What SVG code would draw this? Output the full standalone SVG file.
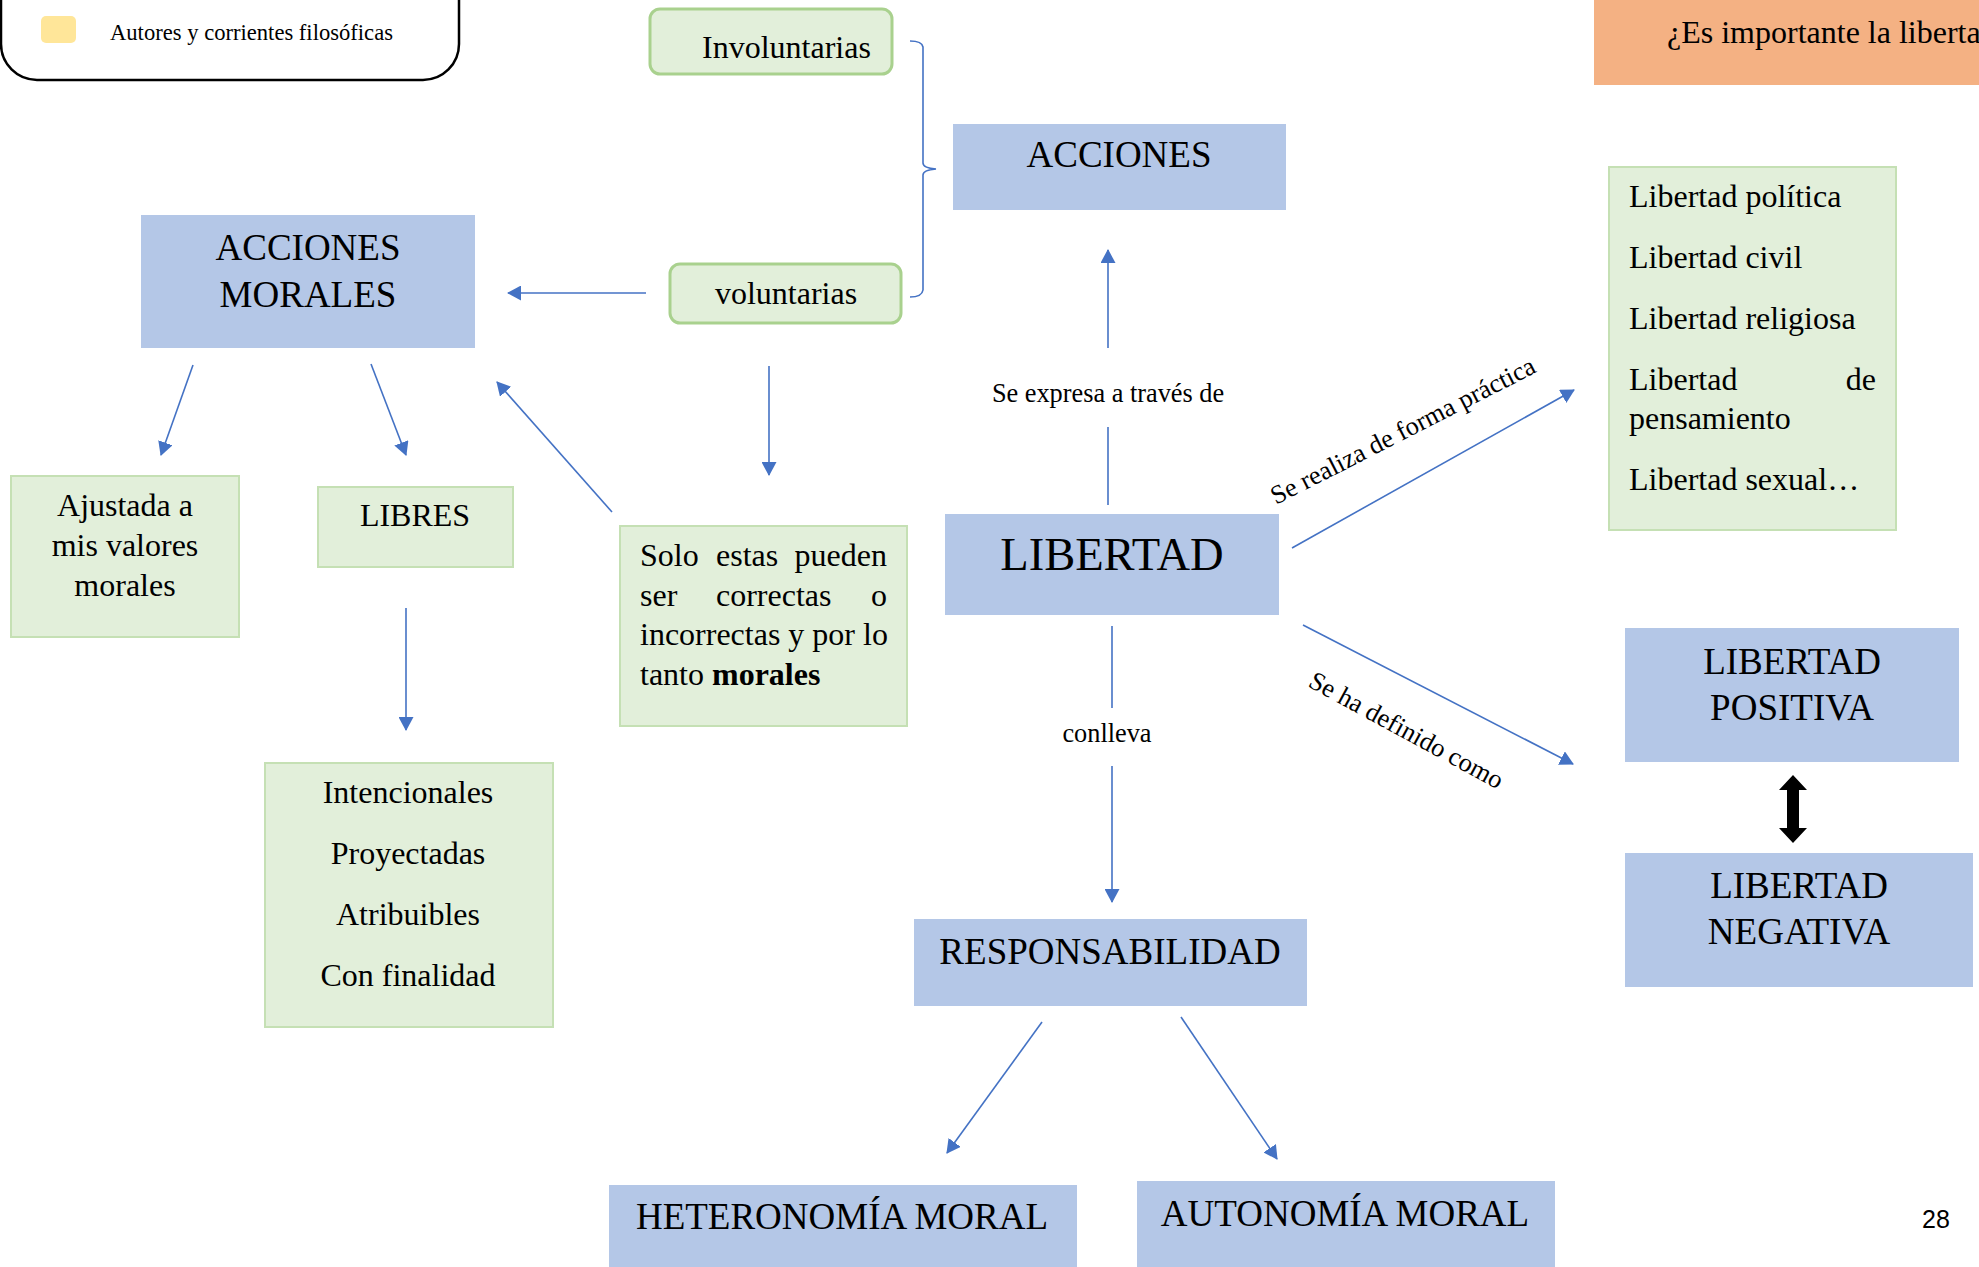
<svg xmlns="http://www.w3.org/2000/svg" width="1979" height="1267" viewBox="0 0 1979 1267">
<style>
text{font-family:"Liberation Serif","Times New Roman",serif;fill:#000}
.blue{fill:#B4C7E7}
.green{fill:#E2EFDA;stroke:#C5E0B4;stroke-width:2}
.pill{fill:#E2EFDA;stroke:#A9D18E;stroke-width:3}
.t32{font-size:32px}
.t37{font-size:37px}
.lbl{font-size:26.3px}
.mid{text-anchor:middle}
.con{stroke:#4472C4;stroke-width:1.6;fill:none}
.arr{marker-end:url(#ah)}
</style>
<defs>
<marker id="ah" viewBox="0 0 14 15" refX="13" refY="7.5" markerWidth="14" markerHeight="15" orient="auto" markerUnits="userSpaceOnUse">
<path d="M0,0 L14,7.5 L0,15 z" fill="#4472C4"/>
</marker>
</defs>
<rect width="1979" height="1267" fill="#fff"/>

<g id="legend">
<rect x="1" y="-40" width="458" height="120" rx="36" fill="#fff" stroke="#000" stroke-width="2.5"/>
<rect x="41" y="16" width="35" height="27" rx="5" fill="#FFE699"/>
<text x="110" y="40" font-size="22.6">Autores y corrientes filosóficas</text>
</g>

<g id="pregunta">
<rect x="1594" y="0" width="385" height="85" fill="#F4B183"/>
<text x="1667" y="43" class="t32">¿Es importante la liberta</text>
</g>

<g id="involuntarias">
<rect x="650" y="9" width="242" height="65" rx="10" class="pill"/>
<text x="702" y="58" class="t32">Involuntarias</text>
</g>

<g id="voluntarias">
<rect x="670" y="264" width="231" height="59" rx="10" class="pill"/>
<text x="786" y="304" class="t32 mid">voluntarias</text>
</g>

<g id="acciones">
<rect x="953" y="124" width="333" height="86" class="blue"/>
<text x="1119" y="167" class="t37 mid">ACCIONES</text>
</g>

<g id="acciones-morales">
<rect x="141" y="215" width="334" height="133" class="blue"/>
<text x="308" y="260" class="t37 mid">ACCIONES</text>
<text x="308" y="307" class="t37 mid">MORALES</text>
</g>

<g id="ajustada">
<rect x="11" y="476" width="228" height="161" class="green"/>
<text x="125" y="516" class="t32 mid">Ajustada a</text>
<text x="125" y="556" class="t32 mid">mis valores</text>
<text x="125" y="596" class="t32 mid">morales</text>
</g>

<g id="libres">
<rect x="318" y="487" width="195" height="80" class="green"/>
<text x="415" y="526" class="t32 mid">LIBRES</text>
</g>

<g id="caracteristicas">
<rect x="265" y="763" width="288" height="264" class="green"/>
<text x="408" y="803" class="t32 mid">Intencionales</text>
<text x="408" y="864" class="t32 mid">Proyectadas</text>
<text x="408" y="925" class="t32 mid">Atribuibles</text>
<text x="408" y="986" class="t32 mid">Con finalidad</text>
</g>

<g id="solo">
<rect x="620" y="526" width="287" height="200" class="green"/>
<text x="640" y="566" class="t32">Solo</text>
<text x="716" y="566" class="t32">estas</text>
<text x="887" y="566" class="t32" text-anchor="end">pueden</text>
<text x="640" y="606" class="t32">ser</text>
<text x="716" y="606" class="t32">correctas</text>
<text x="887" y="606" class="t32" text-anchor="end">o</text>
<text x="640" y="645" class="t32">incorrectas y por lo</text>
<text x="640" y="685" class="t32">tanto <tspan font-weight="bold">morales</tspan></text>
</g>

<g id="libertad">
<rect x="945" y="514" width="334" height="101" class="blue"/>
<text x="1112" y="570" font-size="46.5" class="mid">LIBERTAD</text>
</g>

<g id="responsabilidad">
<rect x="914" y="919" width="393" height="87" class="blue"/>
<text x="1110" y="964" class="t37 mid">RESPONSABILIDAD</text>
</g>

<g id="heteronomia">
<rect x="609" y="1185" width="468" height="90" class="blue"/>
<text x="842" y="1229" class="t37 mid">HETERONOMÍA MORAL</text>
</g>

<g id="autonomia">
<rect x="1137" y="1181" width="418" height="94" class="blue"/>
<text x="1345" y="1226" class="t37 mid">AUTONOMÍA MORAL</text>
</g>

<g id="tipos">
<rect x="1609" y="167" width="287" height="363" class="green"/>
<text x="1629" y="207" class="t32">Libertad política</text>
<text x="1629" y="268" class="t32">Libertad civil</text>
<text x="1629" y="329" class="t32">Libertad religiosa</text>
<text x="1629" y="390" class="t32">Libertad</text>
<text x="1876" y="390" class="t32" text-anchor="end">de</text>
<text x="1629" y="429" class="t32">pensamiento</text>
<text x="1629" y="490" class="t32">Libertad sexual…</text>
</g>

<g id="positiva">
<rect x="1625" y="628" width="334" height="134" class="blue"/>
<text x="1792" y="674" class="t37 mid">LIBERTAD</text>
<text x="1792" y="720" class="t37 mid">POSITIVA</text>
</g>

<g id="negativa">
<rect x="1625" y="853" width="348" height="134" class="blue"/>
<text x="1799" y="898" class="t37 mid">LIBERTAD</text>
<text x="1799" y="944" class="t37 mid">NEGATIVA</text>
</g>

<g id="pagina">
<text x="1922" y="1228" font-size="25" style="font-family:'Liberation Sans',Arial,sans-serif">28</text>
</g>

<g id="connectors">
<path class="con" d="M910,41 Q922,41 923,47 L923,163 Q923,168 936,169 Q923,170 923,175 L923,290 Q922,297 910,297"/>
<line class="con arr" x1="646" y1="293" x2="508" y2="293"/>
<line class="con arr" x1="193" y1="365" x2="161" y2="455"/>
<line class="con arr" x1="371" y1="364" x2="406" y2="455"/>
<line class="con arr" x1="612" y1="512" x2="497" y2="382"/>
<line class="con arr" x1="406" y1="608" x2="406" y2="730"/>
<line class="con arr" x1="769" y1="366" x2="769" y2="475"/>
<line class="con" x1="1108" y1="505" x2="1108" y2="427"/>
<line class="con arr" x1="1108" y1="348" x2="1108" y2="250"/>
<text x="1108" y="402" class="lbl mid">Se expresa a través de</text>
<line class="con" x1="1112" y1="626" x2="1112" y2="708"/>
<line class="con arr" x1="1112" y1="766" x2="1112" y2="902"/>
<text x="1107" y="742" class="lbl mid">conlleva</text>
<line class="con arr" x1="1042" y1="1022" x2="947" y2="1153"/>
<line class="con arr" x1="1181" y1="1017" x2="1277" y2="1159"/>
<line class="con arr" x1="1292" y1="548" x2="1574" y2="390"/>
<text x="1276" y="505" class="lbl" transform="rotate(-27 1276 505)">Se realiza de forma práctica</text>
<line class="con arr" x1="1303" y1="625" x2="1573" y2="764"/>
<text x="1307" y="686" class="lbl" transform="rotate(28.5 1307 686)">Se ha definido como</text>
<path d="M1793,775 L1807,790 L1799,790 L1799,828 L1807,828 L1793,843 L1779,828 L1787,828 L1787,790 L1779,790 Z" fill="#000"/>
</g>
</svg>
